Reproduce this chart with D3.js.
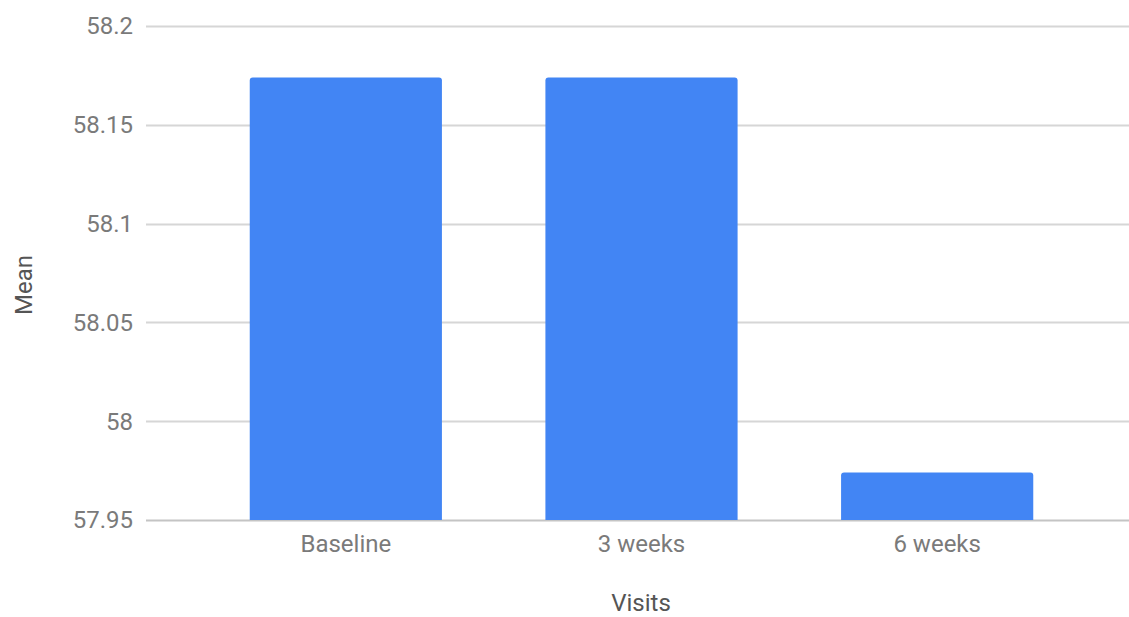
<!DOCTYPE html>
<html lang="en">
<head>
<meta charset="utf-8">
<title>Mean by visit</title>
<script src="https://d3js.org/d3.v7.min.js"></script>
<style>
  body { margin: 0; background: #fff; }
  text { font-family: Roboto, "Noto Sans", sans-serif; }
</style>
</head>
<body>
<script>
// data
var visits = ["Baseline", "3 weeks", "6 weeks"];
var means = [58.174, 58.174, 57.974];
var yTicks = [57.95, 58, 58.05, 58.1, 58.15, 58.2];

var W = 1129, H = 617;
var plotLeft = 146, plotRight = W, plotTop = 26, plotBottom = 520;

var svg = d3.select("body").append("svg")
  .attr("width", W)
  .attr("height", H);

var y = d3.scaleLinear()
  .domain([57.95, 58.2])
  .range([plotBottom, plotTop]);

var x = d3.scaleBand()
  .domain(visits)
  .range([198, 1085])
  .paddingInner(0.35)
  .paddingOuter(0.175);

// gridlines
svg.selectAll("line.grid")
  .data(yTicks)
  .enter()
  .append("line")
  .attr("class", "grid")
  .attr("x1", plotLeft)
  .attr("x2", plotRight)
  .attr("y1", function(d){ return Math.round(y(d)) + 0.5; })
  .attr("y2", function(d){ return Math.round(y(d)) + 0.5; })
  .attr("stroke", function(d){ return d === 57.95 ? "#c4c4c4" : "#d6d6d6"; })
  .attr("stroke-width", 2);

// y tick labels
svg.selectAll("text.ytick")
  .data(yTicks)
  .enter()
  .append("text")
  .attr("class", "ytick")
  .attr("x", 133)
  .attr("y", function(d){ return y(d); })
  .attr("dy", "0.35em")
  .attr("text-anchor", "end")
  .attr("fill", "#7a7a7a")
  .attr("font-size", 24)
  .text(function(d){ return d3.format("")(d); });

// bars
svg.selectAll("path.bar")
  .data(visits)
  .enter()
  .append("path")
  .attr("class", "bar")
  .attr("fill", "#4285f4")
  .attr("d", function(d, i){
    var x0 = x(d), w = x.bandwidth();
    var y0 = y(means[i]), yb = y(57.95), r = 3;
    return "M" + x0 + "," + yb +
      "V" + (y0 + r) +
      "Q" + x0 + "," + y0 + " " + (x0 + r) + "," + y0 +
      "H" + (x0 + w - r) +
      "Q" + (x0 + w) + "," + y0 + " " + (x0 + w) + "," + (y0 + r) +
      "V" + yb + "Z";
  });

// x labels
svg.selectAll("text.xtick")
  .data(visits)
  .enter()
  .append("text")
  .attr("class", "xtick")
  .attr("x", function(d){ return x(d) + x.bandwidth() / 2; })
  .attr("y", 544)
  .attr("dy", "0.35em")
  .attr("text-anchor", "middle")
  .attr("fill", "#7a7a7a")
  .attr("font-size", 24)
  .text(function(d){ return d; });

// axis titles
svg.append("text")
  .attr("x", 641)
  .attr("y", 603)
  .attr("dy", "0.35em")
  .attr("text-anchor", "middle")
  .attr("fill", "#555")
  .attr("font-size", 24)
  .text("Visits");

svg.append("text")
  .attr("transform", "translate(24,285) rotate(-90)")
  .attr("dy", "0.35em")
  .attr("text-anchor", "middle")
  .attr("fill", "#555")
  .attr("font-size", 24)
  .text("Mean");
</script>
</body>
</html>
